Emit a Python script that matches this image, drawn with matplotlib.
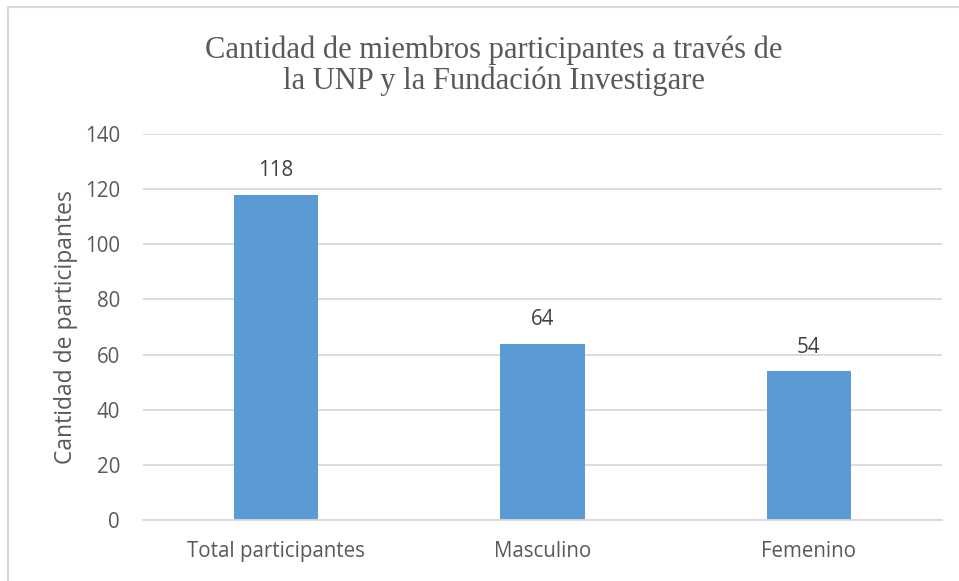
import matplotlib.pyplot as plt
import matplotlib.patches as patches

categories = ["Total participantes", "Masculino", "Femenino"]
values = [118, 64, 54]
y_ticks = [0, 20, 40, 60, 80, 100, 120, 140]

W, H = 959, 581
fig = plt.figure(figsize=(W / 100, H / 100), dpi=100)

# plot area (pixel coordinates from the reference)
left, right, top, bottom = 143, 942, 134, 520
ax = fig.add_axes([left / W, 1 - bottom / H, (right - left) / W, (bottom - top) / H])

bars = ax.bar(range(len(categories)), values, width=0.316, color='#5B9BD5', zorder=3)
ax.set_xlim(-0.5, len(categories) - 0.5)
ax.set_ylim(0, 140)
ax.set_yticks(y_ticks)
ax.set_xticks(range(len(categories)))
ax.set_xticklabels(categories)

sans = ['Open Sans', 'DejaVu Sans']
for lab in ax.get_xticklabels() + ax.get_yticklabels():
    lab.set_family(sans)
    lab.set_fontsize(14.8)
    lab.set_color('#595959')
ax.tick_params(axis='both', length=0)
ax.tick_params(axis='y', pad=16.5)
ax.tick_params(axis='x', pad=15)

ax.grid(axis='y', color='#D9D9D9', linewidth=1.3, zorder=0)
for s in ['top', 'right', 'left']:
    ax.spines[s].set_visible(False)
ax.spines['bottom'].set_color('#D9D9D9')
ax.spines['bottom'].set_linewidth(1.3)
ax.spines['bottom'].set_zorder(4)

# value labels
for rect, v in zip(bars, values):
    ax.annotate(str(v), (rect.get_x() + rect.get_width() / 2, v),
                xytext=(0, 9.5), textcoords='offset points',
                ha='center', va='bottom', fontsize=14.8, color='#404040',
                family=sans)

ax.set_ylabel("Cantidad de participantes", fontsize=16.5, color='#595959',
              family=sans)
ax.yaxis.set_label_coords(78 / W, 1 - 327 / H, transform=fig.transFigure)

# title
fig.text(494 / W, 1 - 66 / H,
         "Cantidad de miembros participantes a través de\nla UNP y la Fundación Investigare",
         ha='center', va='center', fontsize=22, color='#595959',
         family=['Liberation Serif', 'DejaVu Serif'], linespacing=1.05)

# chart frame
frame = patches.Rectangle((8 / W, -0.1), 1.2, 1 - 7 / H + 0.1, transform=fig.transFigure,
                          fill=False, edgecolor='#D9D9D9', linewidth=1.5)
fig.patches.append(frame)

fig.savefig('out.png', dpi=100)
